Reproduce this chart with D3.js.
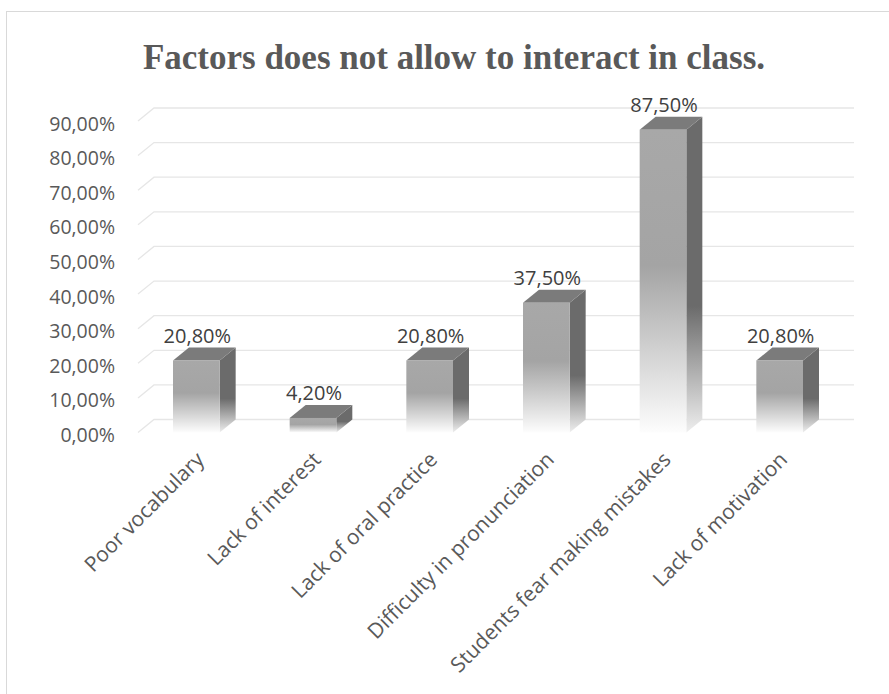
<!DOCTYPE html>
<html>
<head>
<meta charset="utf-8">
<script src="https://cdn.jsdelivr.net/npm/d3@7"></script>
<style>
  html, body { margin: 0; padding: 0; background: #ffffff; }
  svg { display: block; }
</style>
</head>
<body>
<svg id="chart" width="889" height="694"></svg>
<script>
const title = "Factors does not allow to interact in class.";
const categories = ["Poor vocabulary", "Lack of interest", "Lack of oral practice",
  "Difficulty in pronunciation", "Students fear making mistakes", "Lack of motivation"];
const values = [20.8, 4.2, 20.8, 37.5, 87.5, 20.8];
const yTicks = [0, 10, 20, 30, 40, 50, 60, 70, 80, 90];

const svg = d3.select("#chart");

// layout
const depthX = 16, depthY = 13;
const frontLeft = 138, frontRight = 838;
const backBottom = 419.5, backTop = 108;
const FONT = "'Open Sans', 'Noto Sans', sans-serif";

const locale = d3.formatLocale({decimal: ",", thousands: ".", grouping: [3], currency: ["", "€"]});
const fmt = v => locale.format(".2f")(v) + "%";

const x = d3.scaleBand().domain(categories).range([frontLeft, frontRight])
  .paddingInner(0.6).paddingOuter(0.3);
const yBack = d3.scaleLinear().domain([0, 90]).range([backBottom, backTop]);
const yFront = v => yBack(v) + depthY;

// chart border
svg.append("rect").attr("x", 6.5).attr("y", 11.5).attr("width", 920).attr("height", 720)
  .attr("fill", "#fff").attr("stroke", "#d9d9d9").attr("stroke-width", 1);

// gradients
const defs = svg.append("defs");
const gFront = defs.append("linearGradient").attr("id", "gFront")
  .attr("x1", 0).attr("y1", 0).attr("x2", 0).attr("y2", 1);
gFront.append("stop").attr("offset", "0").attr("stop-color", "#a8a8a8");
gFront.append("stop").attr("offset", "0.45").attr("stop-color", "#a4a4a4");
gFront.append("stop").attr("offset", "1").attr("stop-color", "#fdfdfd");
const gSide = defs.append("linearGradient").attr("id", "gSide")
  .attr("x1", 0).attr("y1", 0).attr("x2", 0).attr("y2", 1);
gSide.append("stop").attr("offset", "0").attr("stop-color", "#6b6b6b");
gSide.append("stop").attr("offset", "0.6").attr("stop-color", "#6b6b6b");
gSide.append("stop").attr("offset", "1").attr("stop-color", "#eeeeee");

// gridlines (back wall + floor slant)
const grid = svg.append("g");
yTicks.forEach(t => {
  grid.append("path")
    .attr("d", `M${frontLeft},${yFront(t)} L${frontLeft + depthX},${yBack(t)} L${frontRight + depthX},${yBack(t)}`)
    .attr("fill", "none").attr("stroke", "#e6e6e6").attr("stroke-width", 1.3);
});

// y tick labels
svg.append("g").selectAll("text").data(yTicks).join("text")
  .attr("x", 115).attr("y", d => yFront(d) + 2)
  .attr("text-anchor", "end").attr("dominant-baseline", "central")
  .attr("font-family", FONT).attr("font-size", 19.5)
  .attr("fill", "#595959").text(d => fmt(d));

// bars
const bars = svg.append("g").selectAll("g").data(categories).join("g");
bars.each(function(c, i) {
  const g = d3.select(this);
  const v = values[i];
  const x0 = x(c), bw = x.bandwidth();
  const yt = yFront(v), yb = yFront(0);
  g.append("path")
    .attr("d", `M${x0 + bw},${yt} L${x0 + bw + depthX},${yt - depthY} L${x0 + bw + depthX},${yb - depthY} L${x0 + bw},${yb}Z`)
    .attr("fill", "url(#gSide)");
  g.append("path")
    .attr("d", `M${x0},${yt} L${x0 + depthX},${yt - depthY} L${x0 + bw + depthX},${yt - depthY} L${x0 + bw},${yt}Z`)
    .attr("fill", "#7b7b7b");
  g.append("rect").attr("x", x0).attr("y", yt).attr("width", bw).attr("height", yb - yt)
    .attr("fill", "url(#gFront)");
  g.append("text").attr("x", x0 + bw / 2 + 1).attr("y", yt - 18)
    .attr("text-anchor", "middle")
    .attr("font-family", FONT).attr("font-size", 20)
    .attr("fill", "#404040").text(fmt(v));
});

// category labels
svg.append("g").selectAll("text").data(categories).join("text")
  .attr("transform", d => `translate(${x(d) + x.bandwidth() / 2 + 9},${461}) rotate(-45)`)
  .attr("text-anchor", "end")
  .attr("font-family", FONT).attr("font-size", 21)
  .attr("fill", "#595959").text(d => d);

// title
svg.append("text").attr("x", 454).attr("y", 69).attr("text-anchor", "middle")
  .attr("font-family", "'Liberation Serif', 'Times New Roman', serif")
  .attr("font-weight", "bold").attr("font-size", 35)
  .attr("fill", "#595959").text(title);
</script>
</body>
</html>
